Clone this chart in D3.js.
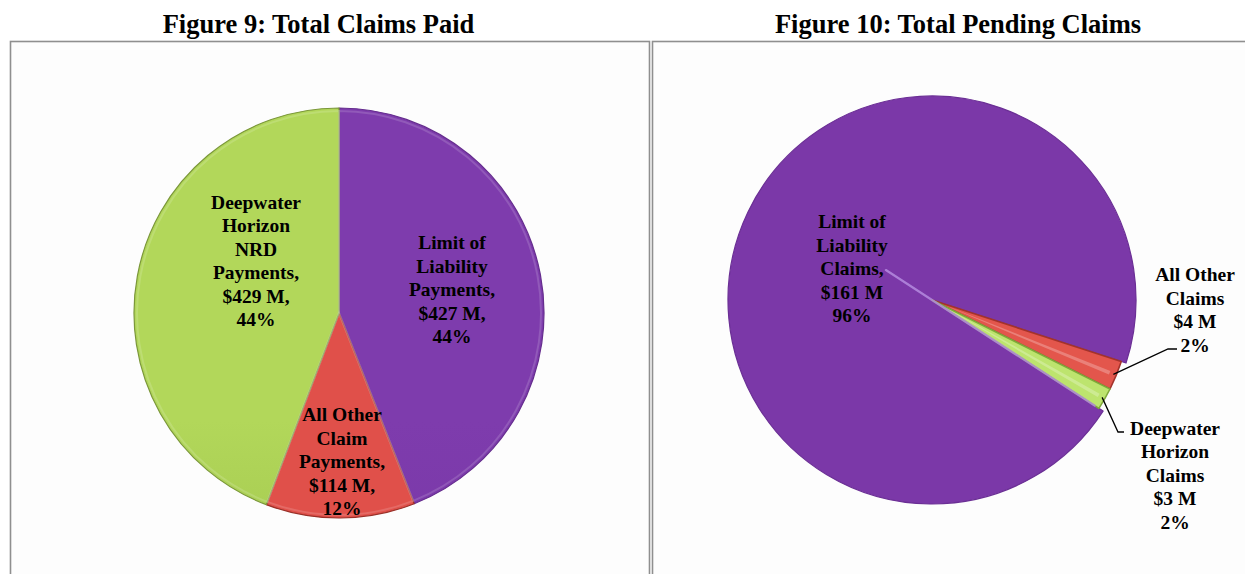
<!DOCTYPE html>
<html lang="en">
<head>
<meta charset="UTF-8"/>
<title>Total Claims Paid / Total Pending Claims</title>
<script src="https://d3js.org/d3.v7.min.js"></script>
<style>
  body { margin: 0; background: #fff; }
  text { font-family: "Liberation Serif", "Times New Roman", serif; font-weight: bold; fill: #000; }
</style>
</head>
<body>
<script>
    // data
    var paidTitle = "Figure 9: Total Claims Paid";
    var paidCategories = ["Limit of Liability Payments", "All Other Claim Payments", "Deepwater Horizon NRD Payments"];
    var paidValues = [427, 114, 429];
    var paidPercents = ["44%", "12%", "44%"];
    var paidLabelLines = [
        ["Limit of", "Liability", "Payments,", "$427 M,", "44%"],
        ["All Other", "Claim", "Payments,", "$114 M,", "12%"],
        ["Deepwater", "Horizon", "NRD", "Payments,", "$429 M,", "44%"]
    ];

    var pendingTitle = "Figure 10: Total Pending Claims";
    var pendingCategories = ["Limit of Liability Claims", "All Other Claims", "Deepwater Horizon Claims"];
    var pendingValues = [161, 4, 3];
    var pendingPercents = ["96%", "2%", "2%"];
    var pendingLabelLines = [
        ["Limit of", "Liability", "Claims,", "$161 M", "96%"],
        ["All Other", "Claims", "$4 M", "2%"],
        ["Deepwater", "Horizon", "Claims", "$3 M", "2%"]
    ];

    // layout
    var w = 1245, h = 574;
    var lineH = 23.5;

    var svg = d3.select("body").append("svg")
        .attr("width", w)
        .attr("height", h);

    var defs = svg.append("defs");

    function grad(id, y0, y1, stops) {
        var g = defs.append("linearGradient")
            .attr("id", id)
            .attr("gradientUnits", "userSpaceOnUse")
            .attr("x1", 0).attr("x2", 0)
            .attr("y1", y0).attr("y2", y1);
        stops.forEach(function(s) {
            g.append("stop").attr("offset", s[0]).attr("stop-color", s[1]);
        });
    }

    // panel frames
    svg.append("rect")
        .attr("x", 10.5).attr("y", 41.5)
        .attr("width", 639).attr("height", 600)
        .attr("fill", "#fdfdfd")
        .attr("stroke", "#8f8f8f")
        .attr("stroke-width", 1.6);
    svg.append("rect")
        .attr("x", 652.5).attr("y", 41.5)
        .attr("width", 700).attr("height", 600)
        .attr("fill", "#fdfdfd")
        .attr("stroke", "#8f8f8f")
        .attr("stroke-width", 1.6);

    // titles
    svg.append("text")
        .attr("x", 318.5).attr("y", 33)
        .attr("text-anchor", "middle")
        .attr("font-size", "26.5px")
        .text(paidTitle);
    svg.append("text")
        .attr("x", 958).attr("y", 33)
        .attr("text-anchor", "middle")
        .attr("font-size", "26.5px")
        .text(pendingTitle);

    function drawLabel(g, lines, cx, cy) {
        var t = g.append("text")
            .attr("text-anchor", "middle")
            .attr("font-size", "19.5px");
        var y0 = cy - (lines.length - 1) / 2 * lineH + 6.5;
        lines.forEach(function(line, i) {
            t.append("tspan")
                .attr("x", cx)
                .attr("y", y0 + i * lineH)
                .text(line);
        });
    }

    // ---------- Figure 9 ----------
    var c1 = { x: 339, y: 313, r: 205 };
    grad("g9purple", c1.y - c1.r, c1.y + c1.r, [[0, "#7e3cad"], [0.6, "#7736a5"], [1, "#6a2f95"]]);
    grad("g9red", c1.y, c1.y + c1.r, [[0, "#e0504a"], [0.6, "#c73f38"], [1, "#a0352d"]]);
    grad("g9green", c1.y - c1.r, c1.y + c1.r, [[0, "#b2d75a"], [0.45, "#a2c74e"], [1, "#86a33f"]]);
    var fills9 = ["url(#g9purple)", "url(#g9red)", "url(#g9green)"];
    var edges9 = ["#652d8e", "#9a3028", "#7b973a"];
    var label9 = [[113, -23.5], [3, 148.5], [-83, -52]];

    var pie9 = d3.pie().sort(null).value(function(d) { return d; });
    var arc9 = d3.arc().innerRadius(0).outerRadius(c1.r);
    var g9 = svg.append("g").attr("transform", "translate(" + c1.x + "," + c1.y + ")");

    g9.selectAll("path.slice")
        .data(pie9(paidValues))
        .enter()
        .append("path")
        .attr("class", "slice")
        .attr("d", arc9)
        .attr("fill", function(d, i) { return fills9[i]; })
        .attr("stroke", function(d, i) { return edges9[i]; })
        .attr("stroke-width", 1.2)
        .attr("stroke-linejoin", "round");

    // soft inner highlight (bevel look)
    var arc9in = d3.arc().innerRadius(0).outerRadius(c1.r - 3);
    g9.selectAll("path.bevel")
        .data(pie9(paidValues))
        .enter()
        .append("path")
        .attr("class", "bevel")
        .attr("d", arc9in)
        .attr("fill", "none")
        .attr("stroke", "#ffffff")
        .attr("stroke-opacity", 0.15)
        .attr("stroke-width", 2);

    paidLabelLines.forEach(function(lines, i) {
        drawLabel(svg, lines, c1.x + label9[i][0], c1.y + label9[i][1]);
    });

    // ---------- Figure 10 ----------
    var c2 = { x: 932, y: 300, r: 204 };
    var start10 = 123 * Math.PI / 180;
    grad("g10red", c2.y, c2.y + 120, [[0, "#e3564c"], [1, "#c23c33"]]);
    grad("g10green", c2.y, c2.y + 120, [[0, "#bde46e"], [1, "#9ccd4c"]]);
    var fills10 = ["#7b38a8", "url(#g10red)", "url(#g10green)"];
    var edges10 = ["#6b2f95", "#a3332b", "#7fa83a"];
    var label10 = [[-80, -31.5], [263, 10], [243, 175]];
    // leader line elbows relative to label centre
    var leader10 = [null, [[-27, 39], [-18, 39]], [[-57, -43], [-51, -43]]];

    var pie10 = d3.pie().sort(null).value(function(d) { return d; })
        .startAngle(start10).endAngle(start10 + 2 * Math.PI);
    var arcs10 = pie10(pendingValues);
    var arc10 = d3.arc().innerRadius(0).outerRadius(function(d, i) { return d.index === 0 ? c2.r : c2.r - 5; });
    var g10 = svg.append("g").attr("transform", "translate(" + c2.x + "," + c2.y + ")");

    g10.selectAll("path.slice")
        .data(arcs10)
        .enter()
        .append("path")
        .attr("class", "slice")
        .attr("d", arc10)
        .attr("fill", function(d, i) { return fills10[i]; })
        .attr("stroke", function(d, i) { return edges10[i]; })
        .attr("stroke-width", function(d, i) { return i === 0 ? 1.2 : 1.6; })
        .attr("stroke-linejoin", "round");

    // light bevel line along the big slice's cut edge
    var a0 = arcs10[0].startAngle;
    g10.append("line")
        .attr("x1", -55 * Math.sin(a0)).attr("y1", 55 * Math.cos(a0))
        .attr("x2", (c2.r - 10) * Math.sin(a0)).attr("y2", -(c2.r - 10) * Math.cos(a0))
        .attr("stroke", "#b58be0")
        .attr("stroke-width", 2.2)
        .attr("stroke-linecap", "round")
        .attr("opacity", 0.85);

    // highlight strip on small slices
    var arc10hi = d3.arc().innerRadius(20).outerRadius(c2.r - 12);
    g10.selectAll("path.hi")
        .data(arcs10.slice(1))
        .enter()
        .append("path")
        .attr("class", "hi")
        .attr("d", function(d) {
            var m = (d.startAngle + d.endAngle) / 2;
            return arc10hi({ startAngle: m - 0.01, endAngle: m + 0.01 });
        })
        .attr("fill", "#ffffff")
        .attr("opacity", 0.25);

    pendingLabelLines.forEach(function(lines, i) {
        var lx = c2.x + label10[i][0], ly = c2.y + label10[i][1];
        drawLabel(svg, lines, lx, ly);
        if (leader10[i]) {
            var d = arcs10[i];
            var m = (d.startAngle + d.endAngle) / 2;
            var sx = c2.x + (c2.r - 8) * Math.sin(m);
            var sy = c2.y - (c2.r - 8) * Math.cos(m);
            var pts = [[sx, sy]].concat(leader10[i].map(function(p) { return [lx + p[0], ly + p[1]]; }));
            svg.append("path")
                .attr("d", d3.line()(pts))
                .attr("fill", "none")
                .attr("stroke", "#000")
                .attr("stroke-width", 1.3);
        }
    });
</script>
</body>
</html>
